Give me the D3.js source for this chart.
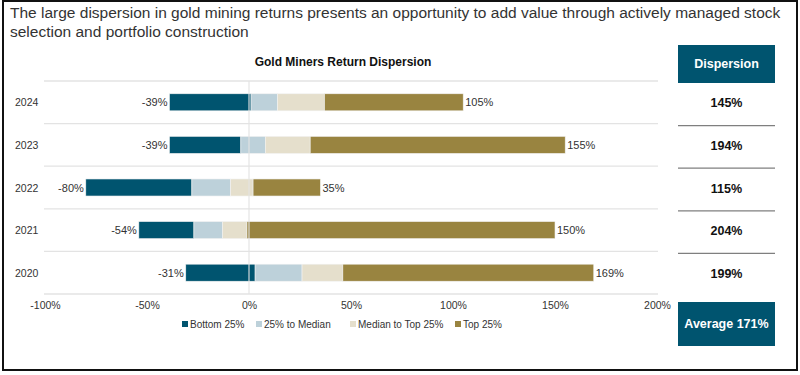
<!DOCTYPE html>
<meta charset="utf-8">
<style>
  body { margin: 0; background: #fff; }
  svg text { font-family: "Liberation Sans", Arial, sans-serif; }
  .narrow { font-family: "Liberation Sans Narrow", "Liberation Sans", Arial, sans-serif; }
</style>
<body>
<svg width="800" height="375"></svg>
<script src="https://cdn.jsdelivr.net/npm/d3@7"></script>
<script>

// data
var years = ["2024", "2023", "2022", "2021", "2020"];
var minRet = [-39, -39, -80, -54, -31];
var p25 = [1, -4, -28, -27, 3];
var median = [14, 8, -9, -13, 26];
var p75 = [37, 30, 2, -1, 46];
var maxRet = [105, 155, 35, 150, 169];
var dispersion = ["145%", "194%", "115%", "204%", "199%"];
var average = "Average 171%";
var series = ["Bottom 25%", "25% to Median", "Median to Top 25%", "Top 25%"];
var colors = ["#00546f", "#bdd1da", "#e5dfcc", "#998440"];
var ticks = [-100, -50, 0, 50, 100, 150, 200];

var svg = d3.select("svg");

// outer frame
svg.append("rect")
  .attr("x", 3).attr("y", 1).attr("width", 794).attr("height", 369)
  .attr("fill", "none").attr("stroke", "#111").attr("stroke-width", 2);

// heading
var head = svg.append("text").attr("x", 10).attr("fill", "#333").style("font-size", "15.5px");
head.append("tspan").attr("x", 10).attr("y", 18)
  .text("The large dispersion in gold mining returns presents an opportunity to add value through actively managed stock");
head.append("tspan").attr("x", 10).attr("y", 37)
  .text("selection and portfolio construction");

svg.append("text")
  .attr("x", 343).attr("y", 66)
  .attr("text-anchor", "middle")
  .style("font-size", "12px").style("font-weight", "bold").attr("fill", "#111")
  .text("Gold Miners Return Dispersion");

var x = d3.scaleLinear().domain([-100, 200]).range([45, 657]);
var y = d3.scaleBand().domain(years).range([81, 294]).paddingInner(0.6).paddingOuter(0.3);
var band = d3.scaleBand().domain(years).range([81, 294]);

// separators between rows
svg.append("g").selectAll("line")
  .data([81].concat(years.map(d => band(d) + band.bandwidth())))
  .enter().append("line")
  .attr("x1", 44).attr("x2", 658)
  .attr("y1", d => d).attr("y2", d => d)
  .attr("stroke", "#e3e3e3").attr("stroke-width", 1.3);

// stacked segments
var rows = years.map(function (yr, i) {
  var cuts = [minRet[i], p25[i], median[i], p75[i], maxRet[i]];
  return { year: yr, segs: series.map((s, j) => ({ k: j, a: cuts[j], b: cuts[j + 1] })) };
});

var rowG = svg.append("g").selectAll("g").data(rows).enter().append("g");
rowG.selectAll("rect")
  .data(d => d.segs.map(s => Object.assign({ year: d.year }, s)))
  .enter().append("rect")
  .attr("x", d => x(Math.min(d.a, d.b)))
  .attr("width", d => Math.abs(x(d.b) - x(d.a)))
  .attr("y", d => y(d.year))
  .attr("height", y.bandwidth())
  .attr("fill", d => colors[d.k])
  .attr("stroke", "#f2f2f2").attr("stroke-width", 0.6);

// zero line on top
svg.append("line")
  .attr("x1", x(0)).attr("x2", x(0)).attr("y1", 81).attr("y2", 294)
  .attr("stroke", "#e3e3e3").attr("stroke-width", 1.3).attr("opacity", 0.85);

// min / max labels
svg.append("g").selectAll("text").data(years).enter().append("text")
  .attr("x", (d, i) => x(minRet[i]) - 2)
  .attr("y", d => y(d) + y.bandwidth() / 2 + 4)
  .attr("text-anchor", "end")
  .style("font-size", "11px").attr("fill", "#333")
  .text((d, i) => minRet[i] + "%");
svg.append("g").selectAll("text").data(years).enter().append("text")
  .attr("x", (d, i) => x(maxRet[i]) + 2)
  .attr("y", d => y(d) + y.bandwidth() / 2 + 4)
  .style("font-size", "11px").attr("fill", "#333")
  .text((d, i) => maxRet[i] + "%");

// year labels
svg.append("g").selectAll("text").data(years).enter().append("text")
  .attr("class", "narrow")
  .attr("x", 15)
  .attr("y", d => y(d) + y.bandwidth() / 2 + 4)
  .style("font-size", "10.5px").attr("fill", "#333")
  .text(d => d);

// x axis
var xAxis = svg.append("g")
  .attr("transform", "translate(0,294)")
  .call(d3.axisBottom(x).tickValues(ticks).tickFormat(d => d + "%").tickSize(0).tickPadding(8));
xAxis.select(".domain").remove();
xAxis.selectAll("text")
  .attr("class", "narrow")
  .style("font-size", "10.5px").attr("fill", "#333");

// legend
var legX = [182, 256, 350, 455];
var leg = svg.append("g").selectAll("g").data(series).enter().append("g")
  .attr("transform", (d, i) => "translate(" + legX[i] + ",328)");
leg.append("rect").attr("x", 0).attr("y", -7).attr("width", 6).attr("height", 6)
  .attr("fill", (d, i) => colors[i]);
leg.append("text").attr("class", "narrow").attr("x", 8).attr("y", 0)
  .style("font-size", "10px").attr("fill", "#333")
  .text(d => d);

// dispersion panel
var px = 678, pw = 97;
svg.append("rect").attr("x", px).attr("y", 45).attr("width", pw).attr("height", 38).attr("fill", "#00546f");
svg.append("text").attr("x", px + pw / 2).attr("y", 68).attr("text-anchor", "middle")
  .style("font-size", "12.5px").style("font-weight", "bold").attr("fill", "#fff")
  .text("Dispersion");

svg.append("g").selectAll("text").data(years).enter().append("text")
  .attr("x", px + pw / 2)
  .attr("y", d => y(d) + y.bandwidth() / 2 + 5)
  .attr("text-anchor", "middle")
  .style("font-size", "12.5px").style("font-weight", "bold").attr("fill", "#111")
  .text((d, i) => dispersion[i]);

svg.append("g").selectAll("line").data(years.slice(0, 4)).enter().append("line")
  .attr("x1", px).attr("x2", px + pw)
  .attr("y1", d => band(d) + band.bandwidth() + 2)
  .attr("y2", d => band(d) + band.bandwidth() + 2)
  .attr("stroke", "#7f7f7f").attr("stroke-width", 1.2);

svg.append("rect").attr("x", px).attr("y", 302).attr("width", pw).attr("height", 44).attr("fill", "#00546f");
svg.append("text").attr("x", px + pw / 2).attr("y", 328).attr("text-anchor", "middle")
  .style("font-size", "12.5px").style("font-weight", "bold").attr("fill", "#fff")
  .text(average);

</script>
</body>
